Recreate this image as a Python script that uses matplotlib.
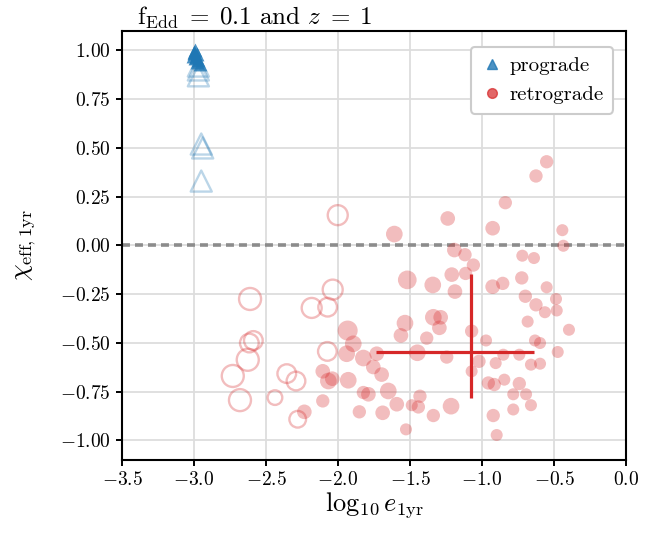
import numpy as np
import matplotlib
matplotlib.use("Agg")
import matplotlib.pyplot as plt
from matplotlib.lines import Line2D

plt.rcParams['font.family'] = 'serif'
plt.rcParams['font.serif'] = ['cmr10']
plt.rcParams['mathtext.fontset'] = 'cm'
plt.rcParams['axes.formatter.use_mathtext'] = True

# prograde systems (filled = main cluster, open = second group)
pro_x = [-3.00, -2.99, -2.98, -3.01, -2.99, -2.97, -2.98, -2.96, -3.00, -2.985]
pro_y = [0.99, 1.00, 0.98, 0.97, 0.96, 0.95, 0.94, 0.93, 0.985, 0.965]
pro_open_x = [-2.97, -2.97, -2.97, -2.95, -2.94, -2.95]
pro_open_y = [0.92, 0.90, 0.87, 0.52, 0.50, 0.33]

# retrograde, open circles
ret_open_x = [-2.002, -2.611, -2.037, -2.183, -2.072, -2.588, -2.616, -2.627,
              -2.731, -2.681, -2.074, -2.356, -2.292, -2.438, -2.280]
ret_open_y = [0.155, -0.275, -0.227, -0.321, -0.317, -0.488, -0.501, -0.587,
              -0.670, -0.794, -0.544, -0.658, -0.696, -0.781, -0.892]
ret_open_s = [207, 251, 207, 207, 181, 181, 181, 251,
              251, 251, 181, 181, 181, 111, 144]

# retrograde, filled circles
ret_x = [-1.609, -1.519, -1.535, -1.563, -1.933, -1.894, -1.940, -1.824, -1.731,
         -1.755, -1.697, -2.106, -2.067, -2.040, -1.929, -1.824, -1.789, -1.651,
         -2.106, -2.234, -1.852, -1.690, -1.592, -1.528,
         -0.551, -0.625, -0.838, -1.238, -0.926, -0.442, -0.435, -1.192, -1.118,
         -1.060, -1.210, -1.114, -0.720, -0.639, -1.342, -1.188, -0.926, -0.856,
         -0.724, -0.551, -0.699, -0.625, -0.563, -0.486, -0.481, -0.396, -0.683,
         -1.338, -1.287, -1.296, -1.384, -1.072, -0.972, -1.449, -1.245, -1.021,
         -0.905, -0.852, -0.741, -0.632, -0.597, -0.474, -0.660, -0.597, -1.072,
         -0.956, -0.915, -0.845, -0.741, -0.783, -0.694, -0.660, -0.783, -0.922,
         -0.898, -1.215, -1.338, -1.431, -1.442, -1.488]
ret_y = [0.058, -0.177, -0.399, -0.462, -0.437, -0.505, -0.556, -0.578, -0.556,
         -0.624, -0.663, -0.646, -0.696, -0.684, -0.692, -0.755, -0.764, -0.747,
         -0.798, -0.854, -0.854, -0.859, -0.815, -0.944,
         0.429, 0.356, 0.219, 0.138, 0.088, 0.078, -0.002, -0.024, -0.048,
         -0.101, -0.150, -0.144, -0.053, -0.065, -0.203, -0.237, -0.212, -0.195,
         -0.167, -0.215, -0.261, -0.305, -0.343, -0.275, -0.334, -0.433, -0.391,
         -0.369, -0.369, -0.423, -0.476, -0.440, -0.488, -0.551, -0.573, -0.595,
         -0.604, -0.561, -0.561, -0.488, -0.501, -0.547, -0.612, -0.607, -0.646,
         -0.706, -0.714, -0.689, -0.709, -0.764, -0.764, -0.820, -0.842, -0.873,
         -0.973, -0.825, -0.873, -0.774, -0.829, -0.820]
ret_s = [144, 181, 144, 111, 207, 144, 144, 144, 111,
         111, 111, 111, 144, 111, 144, 92, 111, 144,
         92, 111, 92, 111, 111, 75,
         92, 92, 92, 111, 111, 75, 75, 111, 92,
         92, 111, 92, 75, 75, 144, 111, 111, 92,
         92, 75, 92, 92, 75, 75, 75, 75, 75,
         144, 111, 111, 92, 92, 75, 144, 92, 92,
         75, 75, 75, 75, 75, 75, 75, 75, 75,
         92, 92, 75, 92, 75, 75, 75, 75, 92,
         75, 144, 92, 92, 92, 75]

# median and spread of retrograde population
med_x, med_y = -1.076, -0.547
xerr = [[0.66], [0.437]]
yerr = [[0.237], [0.402]]

fig = plt.figure(figsize=(6.67, 5.34), dpi=100)
ax = fig.add_axes([0.183, 0.139, 0.7555, 0.803])
ax.set_axisbelow(True)

ax.grid(True, color='#dddddd', lw=1.3)
ax.axhline(0, color='#8c8c8c', ls=(0, (2.2, 1.4)), lw=2.6, zorder=1.8)

ax.scatter(ret_open_x, ret_open_y, s=ret_open_s, facecolors='none',
           edgecolors='tab:red', linewidths=1.7, alpha=0.3, zorder=2)
ax.scatter(ret_x, ret_y, s=ret_s, color='tab:red', alpha=0.3, lw=0, zorder=2)
ax.scatter(pro_open_x, pro_open_y, s=230, marker='^', facecolors='none',
           edgecolors='tab:blue', linewidths=1.7, alpha=0.3, zorder=2)
ax.scatter(pro_x, pro_y, s=100, marker='^', color='tab:blue', alpha=0.8,
           lw=0, zorder=3)

ax.errorbar([med_x], [med_y], xerr=xerr, yerr=yerr, fmt='none',
            ecolor='tab:red', elinewidth=2.3, capsize=0, zorder=4)

ax.set_xlim(-3.5, 0.0)
ax.set_ylim(-1.1, 1.1)
ax.set_xticks(np.arange(-3.5, 0.01, 0.5))
ax.set_yticks(np.arange(-1.0, 1.01, 0.25))
ax.tick_params(labelsize=14, width=1.4, length=4.5)
for sp in ax.spines.values():
    sp.set_linewidth(1.5)
ax.xaxis.set_major_formatter(matplotlib.ticker.FormatStrFormatter('$%.1f$'))
ax.yaxis.set_major_formatter(matplotlib.ticker.FormatStrFormatter('$%.2f$'))

ax.set_xlabel(r'$\log_{10} e_{\rm 1yr}$', fontsize=19, labelpad=1)
ax.set_ylabel(r'$\chi_{\rm eff,1yr}$', fontsize=19, labelpad=16)
ax.text(0.03, 1.0, r'$\rm f_{Edd}\;=\;0.1$ and $z\;=\;1$', transform=ax.transAxes,
        fontsize=18, ha='left', va='bottom')

handles = [Line2D([], [], marker='^', ls='none', color='tab:blue', alpha=0.8,
                  markersize=6.5, label='prograde'),
           Line2D([], [], marker='o', ls='none', color='tab:red', alpha=0.7,
                  markersize=7, label='retrograde')]
leg = ax.legend(handles=handles, loc='upper right', bbox_to_anchor=(0.975, 0.962),
                fontsize=15, handletextpad=0.3, handlelength=1.1, borderpad=0.45,
                borderaxespad=0, framealpha=1, edgecolor='#cccccc')
leg.get_frame().set_linewidth(1.5)

fig.savefig('out.png', dpi=100)
